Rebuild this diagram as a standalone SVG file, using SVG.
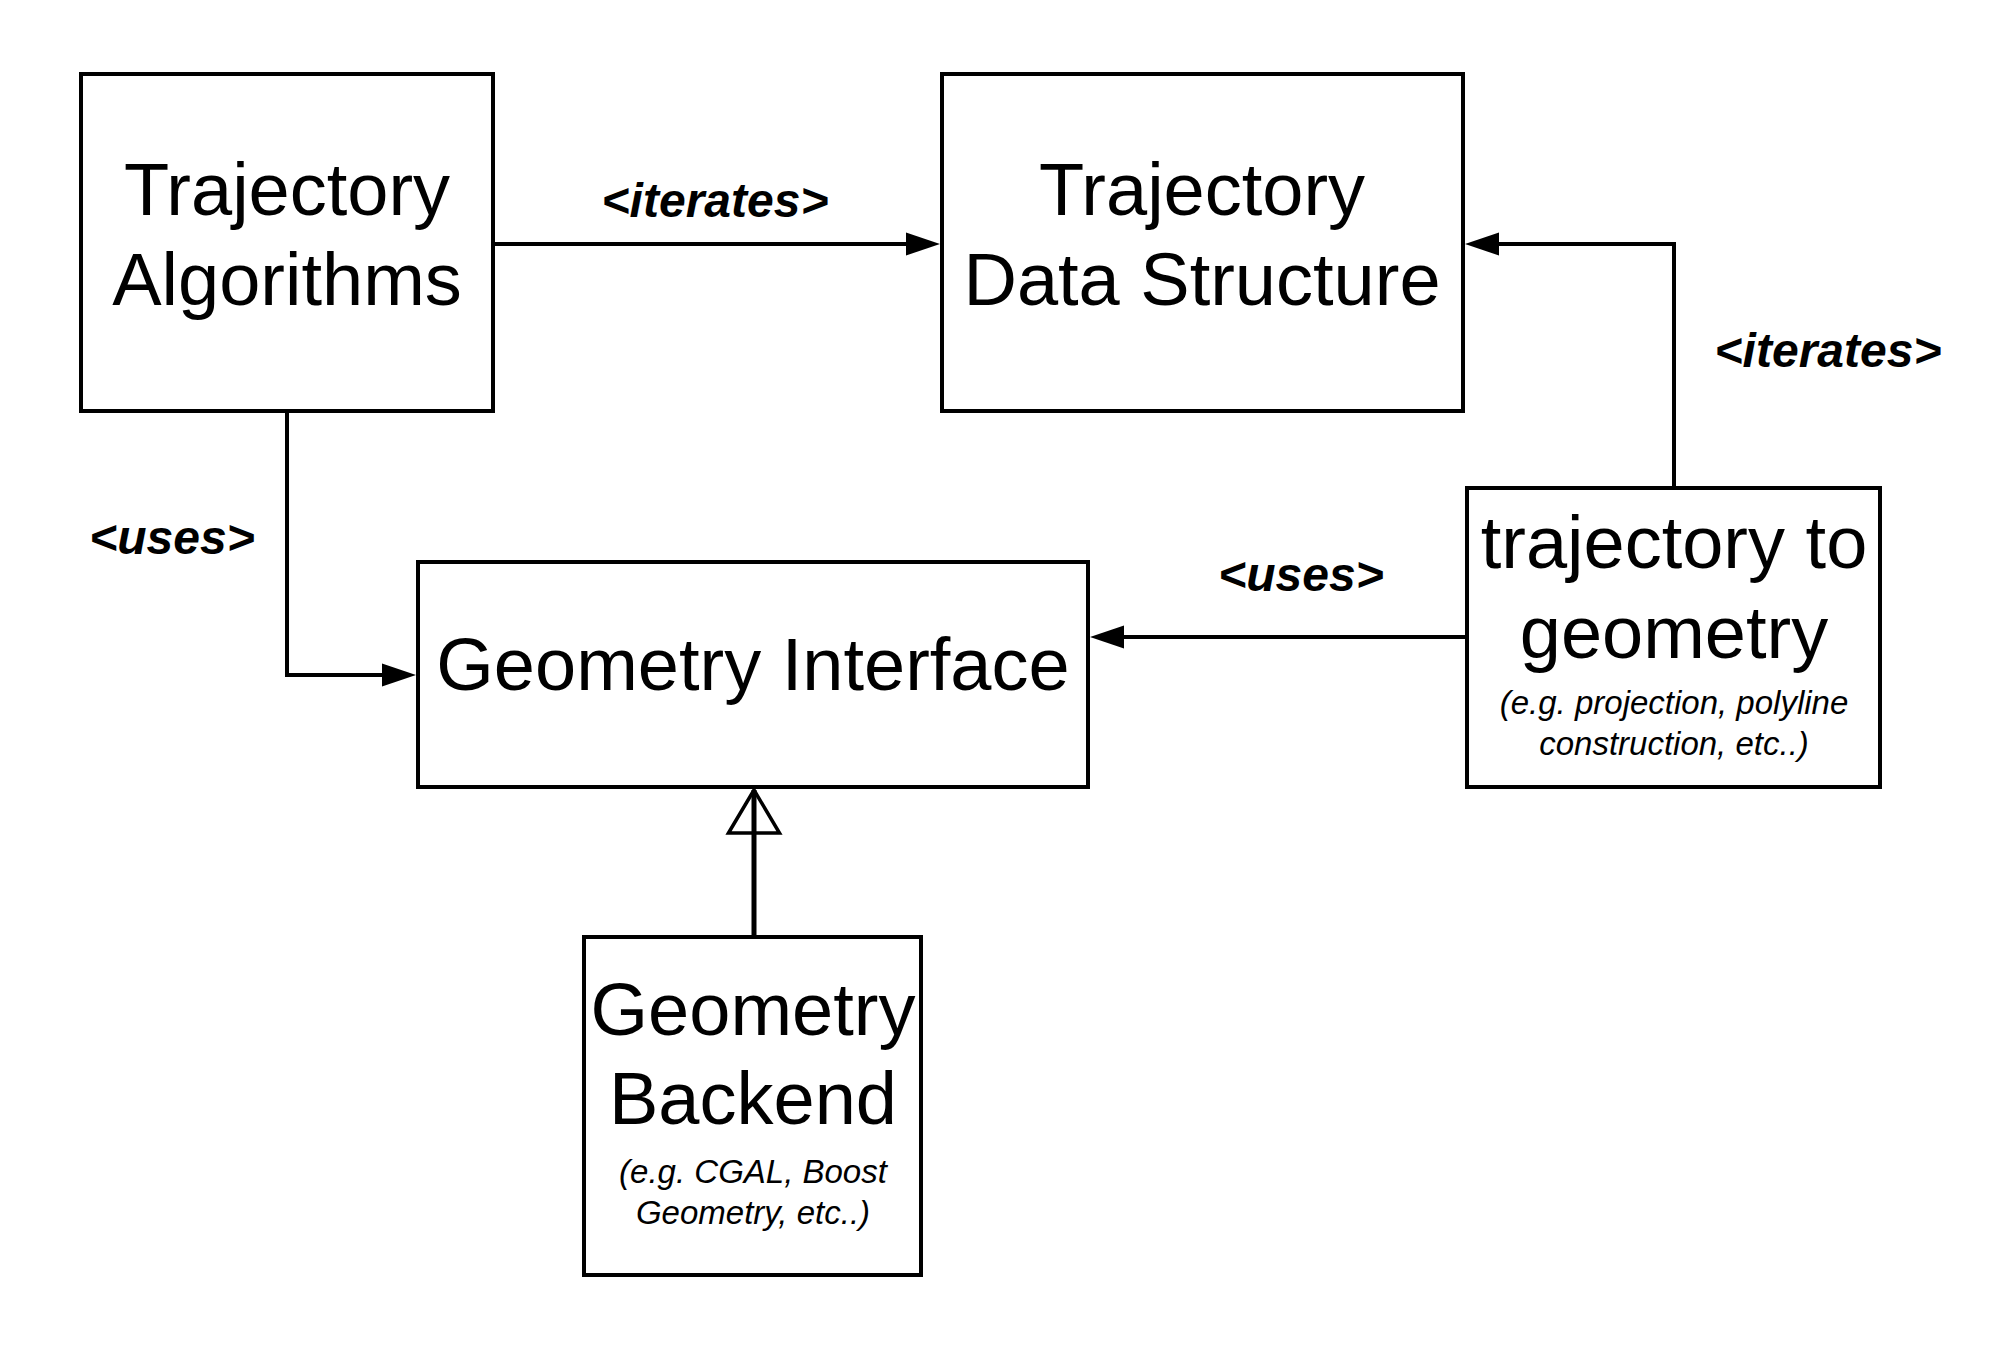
<svg xmlns="http://www.w3.org/2000/svg" width="1997" height="1350" viewBox="0 0 1997 1350">
<style>
.box{fill:#fff;stroke:#000;stroke-width:4}
.main{font-family:"Liberation Sans",Arial,sans-serif;font-size:74px;fill:#000;text-anchor:middle}
.sub{font-family:"Liberation Sans",Arial,sans-serif;font-size:33px;font-style:italic;fill:#000;text-anchor:middle}
.lbl{font-family:"Liberation Sans",Arial,sans-serif;font-size:48px;font-style:italic;font-weight:bold;fill:#000;text-anchor:middle}
.conn{fill:none;stroke:#000;stroke-width:4}
</style>
<defs>
<marker id="arrow" markerUnits="userSpaceOnUse" markerWidth="40" markerHeight="30" refX="4" refY="11.5" orient="auto" overflow="visible">
<path d="M0,0 L34,11.5 L0,23 Z" fill="#000"/>
</marker>
<marker id="hollow" markerUnits="userSpaceOnUse" markerWidth="50" markerHeight="60" refX="43" refY="25.5" orient="auto" overflow="visible">
<path d="M0,0 L43,25.5 L0,51 Z" fill="none" stroke="#000" stroke-width="3.5" stroke-linejoin="miter"/>
</marker>
</defs>
<rect width="1997" height="1350" fill="#fff"/>
<g id="connectors">
<path class="conn" d="M493,244 H910" marker-end="url(#arrow)"/>
<path class="conn" d="M1674,488 V244 H1495" marker-end="url(#arrow)"/>
<path class="conn" d="M287,411 V675 H386" marker-end="url(#arrow)"/>
<path class="conn" d="M1467,637 H1120" marker-end="url(#arrow)"/>
<path class="conn" d="M754,937 V790" style="stroke-width:5" marker-end="url(#hollow)"/>
<text class="lbl" x="715" y="217">&lt;iterates&gt;</text>
<text class="lbl" x="1828" y="367">&lt;iterates&gt;</text>
<text class="lbl" x="172" y="554">&lt;uses&gt;</text>
<text class="lbl" x="1301" y="591">&lt;uses&gt;</text>
</g>
<g id="trajectory-algorithms">
<rect class="box" x="81" y="74" width="412" height="337"/>
<text class="main" x="287" y="215">Trajectory</text>
<text class="main" x="287" y="305">Algorithms</text>
</g>
<g id="trajectory-data-structure">
<rect class="box" x="942" y="74" width="521" height="337"/>
<text class="main" x="1202" y="215">Trajectory</text>
<text class="main" x="1202" y="305">Data Structure</text>
</g>
<g id="geometry-interface">
<rect class="box" x="418" y="562" width="670" height="225"/>
<text class="main" x="753" y="690">Geometry Interface</text>
</g>
<g id="trajectory-to-geometry">
<rect class="box" x="1467" y="488" width="413" height="299"/>
<text class="main" x="1674" y="568">trajectory to</text>
<text class="main" x="1674" y="658">geometry</text>
<text class="sub" x="1674" y="714">(e.g. projection, polyline</text>
<text class="sub" x="1674" y="755">construction, etc..)</text>
</g>
<g id="geometry-backend">
<rect class="box" x="584" y="937" width="337" height="338"/>
<text class="main" x="753" y="1035">Geometry</text>
<text class="main" x="753" y="1124">Backend</text>
<text class="sub" x="753" y="1183">(e.g. CGAL, Boost</text>
<text class="sub" x="753" y="1224">Geometry, etc..)</text>
</g>
</svg>
